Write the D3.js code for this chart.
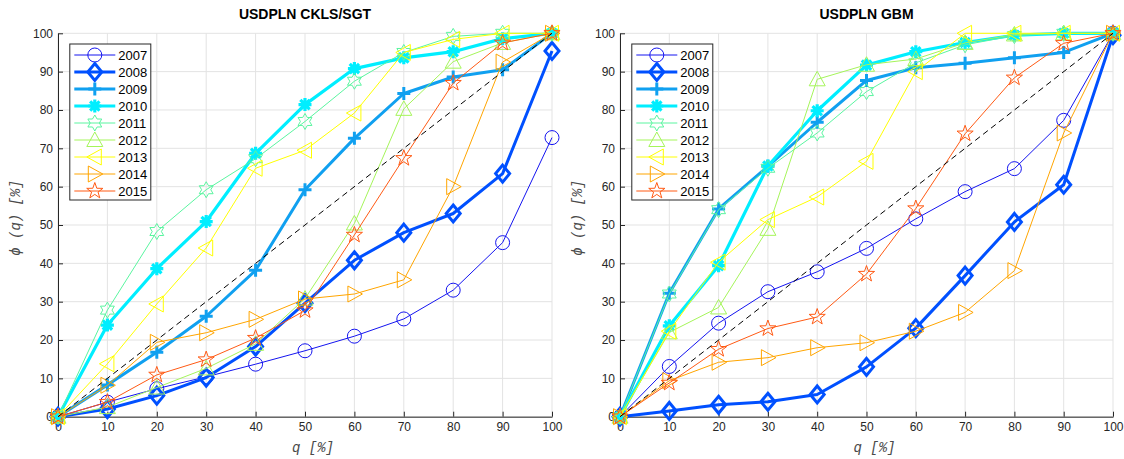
<!DOCTYPE html>
<html>
<head>
<meta charset="utf-8">
<script src="https://cdn.jsdelivr.net/npm/d3@7"></script>
<style>
  html, body { margin: 0; padding: 0; background: #ffffff; }
  svg { display: block; }
</style>
</head>
<body>
<svg id="chart" width="1124" height="459"></svg>
<script>
// ---------------- DATA ----------------
const qValues = [0, 10, 20, 30, 40, 50, 60, 70, 80, 90, 100];
const years = ["2007", "2008", "2009", "2010", "2011", "2012", "2013", "2014", "2015"];
const xTicks = [0, 10, 20, 30, 40, 50, 60, 70, 80, 90, 100];
const yTicks = [0, 10, 20, 30, 40, 50, 60, 70, 80, 90, 100];
const panelTitles = ["USDPLN CKLS/SGT", "USDPLN GBM"];
const xLabel = "q [%]";
const yLabel = "ϕ (q) [%]";

// Left panel: CKLS/SGT
const ckls2007 = [0, 3.8, 7.3, 10.4, 13.7, 17.2, 21.0, 25.5, 33.0, 45.4, 72.8];
const ckls2008 = [0, 2.0, 5.5, 10.2, 18.3, 29.6, 40.8, 48.0, 53.0, 63.4, 95.4];
const ckls2009 = [0, 8.3, 16.8, 26.2, 38.2, 59.2, 72.6, 84.3, 88.6, 90.5, 100];
const ckls2010 = [0, 23.9, 38.6, 50.9, 68.7, 81.4, 90.8, 93.6, 95.2, 98.6, 100];
const ckls2011 = [0, 27.8, 48.3, 59.2, 67.3, 77.0, 87.5, 95.0, 99.2, 100, 100];
const ckls2012 = [0, 2.5, 7.6, 12.6, 19.0, 30.8, 50.4, 80.3, 92.6, 97.5, 100];
const ckls2013 = [0, 13.8, 29.4, 44.0, 64.8, 69.5, 79.2, 95.0, 98.4, 100, 100];
const ckls2014 = [0, 8.2, 19.4, 21.9, 25.4, 30.7, 32.0, 35.7, 60.0, 92.5, 100];
const ckls2015 = [0, 3.8, 10.9, 14.9, 20.5, 27.7, 47.4, 67.4, 87.0, 97.5, 100];

// Right panel: GBM
const gbm2007 = [0, 13.1, 24.4, 32.6, 37.8, 43.9, 51.6, 58.7, 64.7, 77.3, 100];
const gbm2008 = [0, 1.5, 3.1, 3.9, 5.8, 13.0, 23.1, 36.8, 50.8, 60.5, 99.5];
const gbm2009 = [0, 32.2, 54.2, 65.3, 76.8, 87.7, 91.0, 92.2, 93.6, 95.0, 100];
const gbm2010 = [0, 23.7, 39.4, 65.4, 79.8, 91.7, 95.2, 97.6, 99.5, 100, 100];
const gbm2011 = [0, 32.0, 54.0, 64.8, 74.0, 84.8, 92.3, 97.0, 99.4, 100, 100];
const gbm2012 = [0, 22.0, 28.5, 49.0, 88.0, 91.8, 93.3, 97.5, 99.7, 100, 100];
const gbm2013 = [0, 22.3, 40.3, 51.4, 57.3, 66.6, 90.0, 100, 100, 100, 100];
const gbm2014 = [0, 9.4, 14.2, 15.4, 18.0, 19.3, 22.3, 27.2, 38.1, 74.0, 100];
const gbm2015 = [0, 8.8, 17.6, 23.0, 26.0, 37.2, 54.3, 73.8, 88.4, 97.4, 100];

const diagonal = [0, 100];

// ---------------- STYLE ----------------
const seriesColors = ["#1414f0", "#0050ff", "#10a0f0", "#00eeff", "#5af5a0", "#a5f55a", "#ffff00", "#ffa500", "#ff5a14"];
const seriesWidths = [1, 3, 3, 3.2, 1, 1, 1, 1, 1];
const seriesMarkers = ["o", "d", "+", "*", "h", "^", "<", ">", "p"];

const panelsData = [
  [ckls2007, ckls2008, ckls2009, ckls2010, ckls2011, ckls2012, ckls2013, ckls2014, ckls2015],
  [gbm2007, gbm2008, gbm2009, gbm2010, gbm2011, gbm2012, gbm2013, gbm2014, gbm2015]
];
const panelGeom = [
  { left: 58, right: 552 },
  { left: 620, right: 1113 }
];
const plotTop = 33.3, plotBottom = 416.7;
const textColor = "#262626";
const labelColor = "#4a4a4a";
const tickFont = "'Liberation Sans', Arial, Helvetica, sans-serif";

function starPath(points, R, r, rot) {
  let d = "";
  for (let i = 0; i < points * 2; i++) {
    const rad = (i % 2 === 0) ? R : r;
    const a = rot + i * Math.PI / points;
    const x = rad * Math.sin(a), y = -rad * Math.cos(a);
    d += (i === 0 ? "M" : "L") + x.toFixed(2) + "," + y.toFixed(2);
  }
  return d + "Z";
}

function markerPath(type) {
  switch (type) {
    case "o": { const r = 7; return `M${r},0A${r},${r} 0 1,1 ${-r},0A${r},${r} 0 1,1 ${r},0Z`; }
    case "d": { const w = 7, h = 8.5; return `M0,${-h}L${w},0L0,${h}L${-w},0Z`; }
    case "+": { const s = 6.5; return `M${-s},0H${s}M0,${-s}V${s}`; }
    case "*": { const s = 6.5, c = s * 0.72; return `M${-s},0H${s}M0,${-s}V${s}M${-c},${-c}L${c},${c}M${-c},${c}L${c},${-c}`; }
    case "h": return starPath(6, 8, 4.6, 0);
    case "^": return "M0,-8L8,6.5L-8,6.5Z";
    case "<": return "M-8,0L6.5,-8L6.5,8Z";
    case ">": return "M8,0L-6.5,-8L-6.5,8Z";
    case "p": return starPath(5, 8.5, 3.4, 0);
  }
}

const svg = d3.select("#chart");

panelGeom.forEach((geom, p) => {
  const x = d3.scaleLinear().domain([0, 100]).range([geom.left, geom.right]);
  const y = d3.scaleLinear().domain([0, 100]).range([plotBottom, plotTop]);
  const g = svg.append("g");

  // grid
  g.append("g").selectAll("line").data(xTicks).join("line")
    .attr("x1", d => x(d)).attr("x2", d => x(d))
    .attr("y1", plotTop).attr("y2", plotBottom)
    .attr("stroke", "#e3e3e3").attr("stroke-width", 1);
  g.append("g").selectAll("line").data(yTicks).join("line")
    .attr("x1", geom.left).attr("x2", geom.right)
    .attr("y1", d => y(d)).attr("y2", d => y(d))
    .attr("stroke", "#e3e3e3").attr("stroke-width", 1);

  // axes
  const xAxis = d3.axisBottom(x).tickValues(xTicks).tickSizeInner(-5).tickSizeOuter(0).tickPadding(6);
  const yAxis = d3.axisLeft(y).tickValues(yTicks).tickSizeInner(-5).tickSizeOuter(0).tickPadding(5);
  const gx = g.append("g").attr("transform", `translate(0,${plotBottom})`).call(xAxis);
  const gy = g.append("g").attr("transform", `translate(${geom.left},0)`).call(yAxis);
  [gx, gy].forEach(ax => {
    ax.select(".domain").attr("stroke", textColor).attr("stroke-width", 1);
    ax.selectAll(".tick line").attr("stroke", textColor);
    ax.selectAll(".tick text").attr("fill", textColor).style("font-family", tickFont).style("font-size", "12px");
  });

  // series
  const data = panelsData[p];
  const line = d3.line().x((d, i) => x(qValues[i])).y(d => y(d));
  data.forEach((vals, s) => {
    g.append("path").datum(vals)
      .attr("d", line)
      .attr("fill", "none")
      .attr("stroke", seriesColors[s])
      .attr("stroke-width", seriesWidths[s])
      .attr("stroke-linejoin", "round");
    g.append("g").selectAll("path").data(vals).join("path")
      .attr("transform", (d, i) => `translate(${x(qValues[i])},${y(d)})`)
      .attr("d", markerPath(seriesMarkers[s]))
      .attr("fill", "none")
      .attr("stroke", seriesColors[s])
      .attr("stroke-width", seriesWidths[s]);
  });

  // diagonal reference
  g.append("line")
    .attr("x1", x(diagonal[0])).attr("y1", y(diagonal[0]))
    .attr("x2", x(diagonal[1])).attr("y2", y(diagonal[1]))
    .attr("stroke", "#000").attr("stroke-width", 1).attr("stroke-dasharray", "6,4");

  // title
  g.append("text")
    .attr("x", (geom.left + geom.right) / 2).attr("y", 19)
    .attr("text-anchor", "middle")
    .style("font-family", tickFont).style("font-weight", "bold").style("font-size", "14px")
    .attr("fill", "#000")
    .text(panelTitles[p]);

  // axis labels
  g.append("text")
    .attr("x", (geom.left + geom.right) / 2 + 8).attr("y", 452)
    .attr("text-anchor", "middle")
    .style("font-family", "'Liberation Mono', 'Courier New', monospace").style("font-style", "italic").style("font-size", "14px")
    .attr("fill", labelColor)
    .text(xLabel);
  g.append("text")
    .attr("transform", `translate(${geom.left - 38},218) rotate(-90)`)
    .attr("text-anchor", "middle")
    .style("font-family", "'Liberation Mono', 'Courier New', monospace").style("font-style", "italic").style("font-size", "14px")
    .attr("fill", labelColor)
    .text(yLabel);

  // legend
  const lgX = geom.left + 11.8, lgY = 44, lgW = 81, lgH = 156;
  const lg = g.append("g");
  lg.append("rect").attr("x", lgX).attr("y", lgY).attr("width", lgW).attr("height", lgH)
    .attr("fill", "#fff").attr("stroke", textColor).attr("stroke-width", 1);
  years.forEach((yr, s) => {
    const cy = 55 + s * 17;
    lg.append("line").attr("x1", lgX + 4.5).attr("x2", lgX + 45.5).attr("y1", cy).attr("y2", cy)
      .attr("stroke", seriesColors[s]).attr("stroke-width", seriesWidths[s]);
    lg.append("path").attr("transform", `translate(${lgX + 25},${cy})`)
      .attr("d", markerPath(seriesMarkers[s]))
      .attr("fill", "none").attr("stroke", seriesColors[s]).attr("stroke-width", seriesWidths[s]);
    lg.append("text").attr("x", lgX + 48.5).attr("y", cy).attr("dy", "0.36em")
      .style("font-family", tickFont).style("font-size", "13px").attr("fill", "#000")
      .text(yr);
  });
});
</script>
</body>
</html>
